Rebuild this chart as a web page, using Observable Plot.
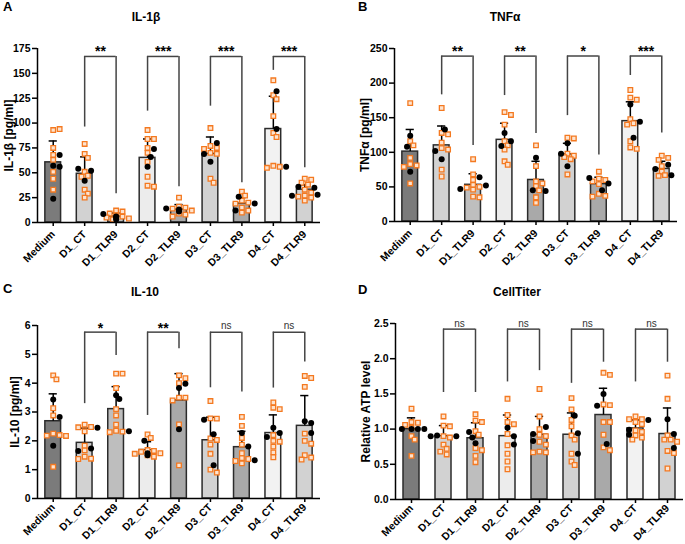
<!DOCTYPE html>
<html><head><meta charset="utf-8">
<script src="https://cdn.jsdelivr.net/npm/d3@7"></script>
<script src="https://cdn.jsdelivr.net/npm/@observablehq/plot@0.6"></script>
<style>
body{margin:0;background:#fff;font-family:"Liberation Sans",Arial,sans-serif;}
#root{position:relative;width:685px;height:544px;overflow:hidden;background:#fff;}
.panel{position:absolute;}
.letter{position:absolute;font-weight:bold;font-size:13px;line-height:1;}
.title{position:absolute;font-weight:bold;font-size:12px;line-height:1;transform:translateX(-50%);white-space:nowrap;}
</style></head>
<body><div id="root"></div>
<script>
const groups = ["Medium","D1_CT","D1_TLR9","D2_CT","D2_TLR9","D3_CT","D3_TLR9","D4_CT","D4_TLR9"];

// Panel A: IL-1β
const il1bMean  = [60.5, 49, 6, 65, 13, 69, 19, 94, 33];
const il1bUpper = [82, 66, 9.5, 84, 18, 86, 25, 127, 38];
const il1bBlack = [[68,57,56,24],[52,54,42],[8.5,6,5,3],[74,66,56],[14,13,11],[80,69,61],[26,19,12],[132,94,56],[36,35,28,27]];
const il1bOrange = [
  [93,94,75,68,63,51,44,33],
  [79,69,65,51,47,46,33,29,25],
  [12,11,9,7,6,5,4,3],
  [93,84,84,75,70,61,46,37,36],
  [25,16,15,14,12,9,8,6],
  [95,77,75,74,70,69,44,40],
  [31,27,22,20,19,15,12,10],
  [143,128,124,107,90,86,57,56,55],
  [44,43,40,38,33,30,27,26,25,22]
];
const il1bSig = ["**","***","***","***"];
const il1bLegCT = [96,112,117,153];
const il1bLegTLR9 = [29,36,40,55];
const il1bBracketTop = 167;
const il1bTicks = [0,25,50,75,100,125,150,175];

// Panel B: TNFα
const tnfMean  = [101, 110, 53, 118, 60, 97, 54, 145, 76];
const tnfUpper = [133, 138, 69, 142, 87, 113, 64, 173, 87];
const tnfBlack = [[124,108,72],[133,102,90],[64,52,47],[128,116,109],[92,45,44],[113,98,80],[63,55,45],[169,144,121],[82,76,67]];
const tnfOrange = [
  [171,116,110,92,83,81,79,55],
  [164,128,126,114,106,104,75,65],
  [90,68,60,53,50,49,46,36,35],
  [158,154,140,116,110,104,87,82],
  [110,80,58,55,51,45,35,27],
  [121,120,98,95,93,90,68],
  [72,62,60,58,54,40,37,36],
  [190,179,176,148,142,140,116,107,105],
  [95,92,89,80,72,67,66]
];
const tnfSig = ["**","**","*","***"];
const tnfLegCT = [183,182,153,211];
const tnfLegTLR9 = [110,127,96,128];
const tnfBracketTop = 239;
const tnfTicks = [0,50,100,150,200,250];

// Panel C: IL-10
const il10Mean  = [2.68, 1.93, 3.1, 1.68, 3.4, 2.02, 1.78, 2.27, 2.52];
const il10Upper = [3.63, 2.44, 3.88, 1.97, 4.33, 2.82, 2.33, 2.9, 3.57];
const il10Black = [[3.43,2.83,1.83],[2.45,1.73,1.65],[3.58,3.45,2.33],[2.0,1.57,1.5],[3.98,3.83,2.4],[2.73,2.23,1.15],[2.27,1.8,1.33],[2.45,2.27,2.13],[2.68,2.62,2.27]];
const il10Orange = [
  [4.27,4.13,3.13,2.88,2.25,2.2,2.18,2.17,1.1],
  [2.56,2.48,2.47,2.33,1.83,1.67,1.45,1.38,1.37],
  [4.33,4.33,3.83,3.1,2.88,2.56,2.35,2.32,2.3],
  [2.22,2.1,1.68,1.65,1.62,1.57,1.55,1.5,1.45],
  [4.27,4.17,4.0,3.5,3.5,3.4,2.57,1.15],
  [3.38,2.78,2.77,2.08,2.03,1.87,1.55,1.0,0.9],
  [2.83,2.52,2.1,1.87,1.57,1.4,1.37,1.3,1.22],
  [3.33,3.15,3.1,2.2,2.0,1.97,1.8,1.6,1.43],
  [4.25,4.18,3.87,2.25,2.0,1.9,1.5,1.42,1.35]
];
const il10Sig = ["*","**","ns","ns"];
const il10LegCT = [3.29,2.88,3.84,3.83];
const il10LegTLR9 = [4.96,5.19,3.69,4.73];
const il10BracketTop = 5.77;
const il10Ticks = [0,1,2,3,4,5,6];

// Panel D: CellTiter
const atpMean  = [1.0, 0.9, 0.87, 0.9, 0.92, 0.92, 1.2, 1.01, 0.93];
const atpUpper = [1.16, 1.05, 1.09, 1.2, 1.18, 1.23, 1.58, 1.13, 1.3];
const atpBlack = [[1.0,1.0,1.0,1.0],[0.91,0.9,0.9],[0.96,0.88,0.8],[1.02,0.9,0.78],[1.03,0.93,0.83],[1.19,0.94,0.65],[1.5,1.33,0.79],[1.13,0.99,0.92],[1.14,0.93,0.73]];
const atpOrange = [
  [1.29,1.1,1.09,1.06,1.02,0.9,0.85,0.62],
  [1.18,1.05,1.04,0.9,0.88,0.78,0.72,0.68,0.64],
  [1.21,1.12,1.1,0.97,0.92,0.73,0.7,0.62,0.53],
  [1.43,1.2,1.1,1.07,0.93,0.77,0.65,0.54,0.43],
  [1.57,1.18,1.0,0.92,0.9,0.82,0.78,0.68,0.67,0.67],
  [1.44,1.28,1.13,1.04,0.91,0.85,0.65,0.54,0.49],
  [1.8,1.77,1.35,1.34,1.1,1.1,0.92,0.74,0.7],
  [1.18,1.14,1.14,1.1,1.07,0.98,0.96,0.91,0.88,0.85],
  [1.76,1.43,0.91,0.85,0.85,0.82,0.69,0.66,0.44]
];
const atpSig = ["ns","ns","ns","ns"];
const atpLegCT = [1.52,1.67,1.65,1.67];
const atpLegTLR9 = [1.52,1.83,1.95,1.95];
const atpBracketTop = 2.42;
const atpTicks = [0,0.5,1.0,1.5,2.0,2.5];

const panelLetters = ["A","B","C","D"];
const panelTitles = ["IL-1β","TNFα","IL-10","CellTiter"];
const yLabels = ["IL-1β [pg/ml]","TNFα [pg/ml]","IL-10 [pg/ml]","Relative ATP level"];

// styles
const barFills = ["#7b7b7b","#d2d2d2","#bebebe","#ececec","#a9a9a9","#d2d2d2","#a9a9a9","#f2f2f2","#d2d2d2"];
const FONT = "'Liberation Sans', Arial, sans-serif";

function panel(cfg) {
  const {width,height,ml,mr,mt,mb,ymax,ticks,fmt,mean,upper,black,orange,sig,legCT,legTLR,bracketTop,ylabel,labelDx,xPad} = cfg;
  const plotW = width-ml-mr, plotH = height-mt-mb;
  const stepPx = plotW/9, pxPerUnit = plotH/ymax;
  const pts = [];
  groups.forEach((g,i) => {
    const items = [...orange[i].map(v=>({v,k:"o"})), ...black[i].map(v=>({v,k:"b"}))];
    const placed = [];
    for (const it of items) {
      const yp = it.v*pxPerUnit;
      let off = 0;
      for (const k of [0,1,-1,2,-2,3,-3,4,-4]) {
        const xp = k*3.2;
        if (placed.every(p => Math.hypot(p[0]-xp, p[1]-yp) >= 4.5)) { off = xp; break; }
      }
      placed.push([off,yp]);
      pts.push({i, x: i + off/stepPx, v: it.v, k: it.k});
    }
  });
  const bars = groups.map((g,i) => ({i, g, mean: mean[i], upper: upper[i], fill: barFills[i]}));
  const br = sig.map((s,j) => ({ct: 1+2*j, tl: 2+2*j, s, l: legCT[j], r: legTLR[j]}));
  const stars = br.filter(d => d.s !== "ns"), ns = br.filter(d => d.s === "ns");
  return Plot.plot({
    width, height, marginLeft: ml, marginRight: mr, marginTop: mt, marginBottom: mb,
    style: {fontFamily: FONT, color: "#000", background: "transparent", overflow: "visible"},
    x: {domain: [-0.5, 8.5], axis: null},
    y: {domain: [0, ymax], axis: null},
    color: {type: "identity"},
    marks: [
      Plot.rectY(bars, {x1: d => d.i-0.25, x2: d => d.i+0.25, y1: 0, y2: "mean", fill: "fill", stroke: "#2b2b2b", strokeWidth: 1.5}),
      Plot.ruleX(bars, {x: "i", y1: "mean", y2: "upper", stroke: "#000", strokeWidth: 1.5}),
      Plot.ruleY(bars, {y: "upper", x1: d => d.i-0.13, x2: d => d.i+0.13, stroke: "#000", strokeWidth: 1.5}),
      Plot.ruleX(br, {x: "ct", y1: "l", y2: () => bracketTop, stroke: "#444", strokeWidth: 1.5}),
      Plot.ruleX(br, {x: "tl", y1: "r", y2: () => bracketTop, stroke: "#444", strokeWidth: 1.5}),
      Plot.ruleY(br, {y: () => bracketTop, x1: "ct", x2: "tl", stroke: "#444", strokeWidth: 1.5}),
      Plot.text(stars, {x: d => (d.ct+d.tl)/2, y: () => ymax, text: "s", fontWeight: "bold", fontSize: 14, dy: 3, fill: "#000"}),
      Plot.text(ns, {x: d => (d.ct+d.tl)/2, y: () => ymax, text: "s", fontSize: 10, fill: "#333"}),
      Plot.dot(pts.filter(d => d.k === "o"), {x: "x", y: "v", symbol: "square", r: 2.6, stroke: "#f47920", fill: "#fde3cf", strokeWidth: 1.3}),
      Plot.dot(pts.filter(d => d.k === "b"), {x: "x", y: "v", r: 3, fill: "#000", stroke: "none"}),
      Plot.ruleX([-0.5], {stroke: "#000", strokeWidth: 1.5}),
      Plot.ruleY([0], {stroke: "#000", strokeWidth: 1.5}),
      Plot.axisY({ticks, tickFormat: fmt, fontWeight: "bold", fontSize: 10.5, tickSize: 5, tickPadding: 2, strokeWidth: 1.5, label: null}),
      Plot.axisX({ticks: d3.range(9), tickFormat: i => groups[i], tickRotate: -45, fontWeight: "bold", fontSize: 10.5, tickSize: 4, tickPadding: xPad, strokeWidth: 1.5, label: null}),
      Plot.text([ylabel], {frameAnchor: "left", textAnchor: "middle", rotate: -90, dx: labelDx, text: d => d, fontWeight: "bold", fontSize: 12, fill: "#000"})
    ]
  });
}

const cfgs = [
  {posX:0, posY:0, width:340, height:270, ml:37, mr:20, mt:48, mb:48, ymax:175, ticks:il1bTicks, fmt:d3.format("d"),
   mean:il1bMean, upper:il1bUpper, black:il1bBlack, orange:il1bOrange, sig:il1bSig, legCT:il1bLegCT, legTLR:il1bLegTLR9, bracketTop:il1bBracketTop, ylabel:yLabels[0], labelDx:-28, xPad:6},
  {posX:340, posY:0, width:345, height:270, ml:54, mr:8, mt:48, mb:49, ymax:250, ticks:tnfTicks, fmt:d3.format("d"),
   mean:tnfMean, upper:tnfUpper, black:tnfBlack, orange:tnfOrange, sig:tnfSig, legCT:tnfLegCT, legTLR:tnfLegTLR9, bracketTop:tnfBracketTop, ylabel:yLabels[1], labelDx:-29, xPad:6},
  {posX:0, posY:270, width:340, height:274, ml:37, mr:20, mt:55, mb:46, ymax:6, ticks:il10Ticks, fmt:d3.format("d"),
   mean:il10Mean, upper:il10Upper, black:il10Black, orange:il10Orange, sig:il10Sig, legCT:il10LegCT, legTLR:il10LegTLR9, bracketTop:il10BracketTop, ylabel:yLabels[2], labelDx:-22, xPad:3},
  {posX:340, posY:270, width:345, height:274, ml:55, mr:2, mt:53, mb:45, ymax:2.5, ticks:atpTicks, fmt:d3.format(".1f"),
   mean:atpMean, upper:atpUpper, black:atpBlack, orange:atpOrange, sig:atpSig, legCT:atpLegCT, legTLR:atpLegTLR9, bracketTop:atpBracketTop, ylabel:yLabels[3], labelDx:-29, xPad:3}
];
const letterPos = [[3,0],[358,0],[3,282],[358,283]];
const titlePos = [[146,11],[505,11],[145,286],[517,286]];

const root = document.getElementById("root");
cfgs.forEach((c,k) => {
  const div = document.createElement("div");
  div.className = "panel";
  div.style.left = c.posX + "px"; div.style.top = c.posY + "px";
  div.appendChild(panel(c));
  root.appendChild(div);
  const L = document.createElement("div");
  L.className = "letter"; L.textContent = panelLetters[k];
  L.style.left = letterPos[k][0] + "px"; L.style.top = letterPos[k][1] + "px";
  root.appendChild(L);
  const T = document.createElement("div");
  T.className = "title"; T.textContent = panelTitles[k];
  T.style.left = titlePos[k][0] + "px"; T.style.top = titlePos[k][1] + "px";
  root.appendChild(T);
});
</script>
</body></html>
